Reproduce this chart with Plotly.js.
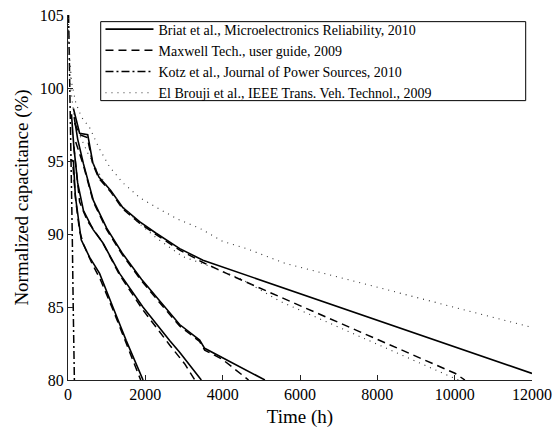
<!DOCTYPE html>
<html><head><meta charset="utf-8">
<script src="https://cdn.plot.ly/plotly-3.0.1.min.js"></script>
<style>html,body{margin:0;padding:0;background:#fff;}#chart{width:553px;height:430px;}</style>
</head><body><div id="chart"></div>
<script>
// Legend labels
const labels = [
  "Briat et al., Microelectronics Reliability, 2010",
  "Maxwell Tech., user guide, 2009",
  "Kotz et al., Journal of Power Sources, 2010",
  "El Brouji et al., IEEE Trans. Veh. Technol., 2009"
];
// Briat (solid) curves
const briatT1 = [60, 140, 190, 342, 560, 816, 1160, 1506, 1941];
const briatC1 = [95.1, 95.0, 92.6, 89.6, 88.4, 87.3, 85.0, 82.7, 80.0];
const briatT2 = [90, 150, 250, 400, 650, 900, 1333, 1937, 2628, 2887, 3448];
const briatC2 = [98.2, 96.0, 93.5, 91.6, 90.3, 89.4, 87.3, 85.0, 82.7, 81.9, 80.0];
const briatT3 = [160, 250, 400, 655, 1000, 1400, 1900, 2400, 2887, 3405, 3534, 5092];
const briatC3 = [98.0, 96.5, 94.8, 92.3, 90.4, 88.7, 86.9, 85.3, 83.8, 82.74, 82.17, 80.0];
const briatT4 = [140, 300, 510, 640, 800, 1100, 1420, 1850, 2280, 2890, 3490, 12000];
const briatC4 = [98.6, 96.9, 96.8, 94.9, 93.9, 93.0, 91.8, 90.85, 90.05, 89.0, 88.2, 80.45];
// Maxwell (dashed) curves
const maxT1 = [130, 200, 300, 400, 600, 850, 1150, 1500, 1880];
const maxC1 = [94.6, 92.3, 90.2, 89.3, 88.1, 86.8, 84.9, 82.6, 80.0];
const maxT2 = [150, 300, 500, 900, 1333, 1937, 2628, 3020, 3280];
const maxC2 = [96.0, 92.2, 90.9, 89.4, 87.2, 84.8, 82.4, 81.1, 80.0];
const maxT3 = [200, 400, 655, 1000, 1400, 1900, 2400, 2887, 3400, 3534, 4000, 4670];
const maxC3 = [96.3, 94.7, 92.2, 90.3, 88.6, 86.8, 85.2, 83.7, 82.65, 82.05, 81.4, 80.0];
const maxT4 = [170, 300, 500, 640, 800, 1100, 1420, 1850, 2280, 2890, 3490, 4100, 5476, 10007, 10265];
const maxC4 = [97.6, 96.8, 96.6, 94.8, 93.8, 92.9, 91.7, 90.75, 89.95, 88.9, 88.05, 87.3, 85.7, 80.46, 80.0];
// Kotz (dash-dot)
const kotzT1 = [15, 50, 85, 110, 135, 165];
const kotzC1 = [105.0, 100.0, 95.0, 90.0, 85.0, 80.0];
// El Brouji (dotted)
const elbT1 = [5, 20, 50, 100, 200, 350, 557, 800, 1075, 1420, 1850, 2369, 2850, 3400, 4000, 4614, 5605, 12000];
const elbC1 = [104.8, 103.5, 101.8, 100.3, 99.0, 98.0, 97.3, 95.9, 94.6, 93.5, 92.5, 91.7, 91.0, 90.4, 89.5, 89.0, 88.0, 83.6];
const elbT2 = [5, 30, 70, 150, 300, 500, 700, 1000, 1400, 1850, 2300, 2970, 3578, 4500, 5476, 10007, 10100];
const elbC2 = [104.0, 102.0, 100.0, 98.2, 96.8, 95.6, 94.6, 93.3, 91.9, 90.7, 89.7, 88.45, 87.88, 86.9, 85.4, 80.1, 80.0];

const xTicks = [0, 2000, 4000, 6000, 8000, 10000, 12000];
const yTicks = [80, 85, 90, 95, 100, 105];

const FONT = "'Liberation Serif', 'Times New Roman', serif";
const styles = {
  solid: {color: "#000", width: 1.6, dash: "solid"},
  dashed: {color: "#000", width: 1.5, dash: "8px,5px"},
  dashdot: {color: "#000", width: 1.5, dash: "8px,3px,2px,3px"},
  dotted: {color: "#333", width: 1.1, dash: "1px,5px"}
};
function tr(x, y, style, name, show) {
  return {x: x, y: y, type: "scatter", mode: "lines", line: Object.assign({}, styles[style]),
          name: name || "", showlegend: !!show, hoverinfo: "skip"};
}
const traces = [
  tr(briatT4, briatC4, "solid", labels[0], true),
  tr(maxT4, maxC4, "dashed", labels[1], true),
  tr(kotzT1, kotzC1, "dashdot", labels[2], true),
  tr(elbT1, elbC1, "dotted", labels[3], true),
  tr(briatT1, briatC1, "solid"),
  tr(briatT2, briatC2, "solid"),
  tr(briatT3, briatC3, "solid"),
  tr(maxT1, maxC1, "dashed"),
  tr(maxT2, maxC2, "dashed"),
  tr(maxT3, maxC3, "dashed"),
  tr(elbT2, elbC2, "dotted")
];

const layout = {
  width: 553, height: 430,
  margin: {l: 68, r: 21, t: 15, b: 50, pad: 0},
  paper_bgcolor: "#fff", plot_bgcolor: "#fff",
  font: {family: FONT, size: 16, color: "#000"},
  xaxis: {
    range: [0, 12000], tickvals: xTicks, ticktext: xTicks.map(String),
    showgrid: false, zeroline: false, showline: true, linecolor: "#222", linewidth: 1,
    ticks: "inside", ticklen: 5, tickcolor: "#222", mirror: false,
    tickfont: {family: FONT, size: 16, color: "#000"},
    title: {text: "Time (h)", font: {family: FONT, size: 19, color: "#000"}, standoff: 7}
  },
  yaxis: {
    range: [80, 105], tickvals: yTicks, ticktext: yTicks.map(String),
    showgrid: false, zeroline: false, showline: true, linecolor: "#222", linewidth: 1,
    ticks: "inside", ticklen: 5, tickcolor: "#222",
    tickfont: {family: FONT, size: 16, color: "#000"},
    title: {text: "Normalized capacitance (%)", font: {family: FONT, size: 19, color: "#000"}, standoff: 6}
  },
  showlegend: true,
  legend: {
    x: 0.07, y: 1.004, xanchor: "left", yanchor: "top",
    bgcolor: "rgba(0,0,0,0)", borderwidth: 0,
    font: {family: FONT, size: 14, color: "#000"},
    itemwidth: 48, tracegroupgap: 0
  },
  shapes: [{
    type: "rect", xref: "paper", yref: "paper",
    x0: 0.0705, x1: 0.9864, y0: 0.7654, y1: 0.9818,
    line: {color: "#000", width: 1}, fillcolor: "#fff", layer: "below"
  }]
};
Plotly.newPlot("chart", traces, layout, {displayModeBar: false, staticPlot: true});
</script></body></html>
